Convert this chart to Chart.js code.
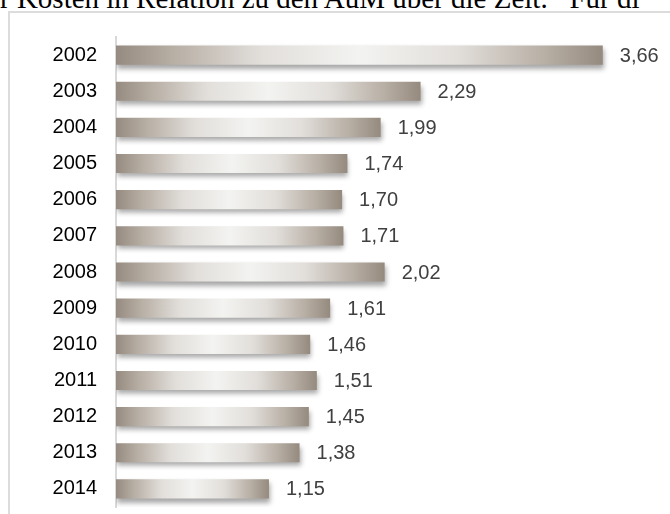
<!DOCTYPE html>
<html>
<head>
<meta charset="utf-8">
<script src="https://cdn.jsdelivr.net/npm/chart.js@4.4.0/dist/chart.umd.min.js"></script>
<style>
    html, body { margin: 0; padding: 0; background: #ffffff; }
    body { width: 670px; height: 514px; position: relative; overflow: hidden; }
    /* cut-off line of the surrounding document text */
    #caption {
        position: absolute; left: 0px; top: -16px; white-space: nowrap;
        font-family: "Liberation Serif", "Times New Roman", serif;
        font-size: 29px; line-height: 29px; color: #000;
    }
    /* light frame around the chart object */
    #frame {
        position: absolute; left: 8px; top: 11px; width: 700px; height: 540px;
        border: 2px solid #dcdcdc; box-sizing: border-box;
    }
    #wrap { position: absolute; left: 0; top: 0; width: 670px; height: 514px; }
</style>
</head>
<body>
<div id="caption">r Kosten in Relation zu den AuM über die Zeit.&nbsp;&nbsp; Für di</div>
<div id="frame"></div>
<div id="wrap"><canvas id="chartCanvas" width="670" height="514"></canvas></div>
<script>
// ==========================================
// DATA — years and cost ratio per year
// ==========================================
const years = ['2002', '2003', '2004', '2005', '2006', '2007', '2008',
               '2009', '2010', '2011', '2012', '2013', '2014'];
const costRatio = [3.66, 2.29, 1.99, 1.74, 1.70, 1.71, 2.02,
                   1.61, 1.46, 1.51, 1.45, 1.38, 1.15];

// German number format: 3,66
const fmt = v => v.toFixed(2).replace('.', ',');

// Horizontal gradient per bar: dark edges, light middle.
// Scales are already laid out when bar options get resolved.
function barGradient(context) {
    const chart = context.chart;
    const xScale = chart.scales.x;
    if (!xScale || !context.parsed) return '#b5aca2';
    const x0 = xScale.getPixelForValue(0);
    const x1 = xScale.getPixelForValue(context.parsed.x);
    if (!isFinite(x0) || !isFinite(x1) || x1 <= x0) return '#b5aca2';
    const g = chart.ctx.createLinearGradient(x0, 0, x1, 0);
    g.addColorStop(0, '#968b80');
    g.addColorStop(0.12, '#b8afa5');
    g.addColorStop(0.3, '#e2dfdb');
    g.addColorStop(0.5, '#f3f3f1');
    g.addColorStop(0.7, '#e2dfdb');
    g.addColorStop(0.88, '#b8afa5');
    g.addColorStop(1, '#958a7e');
    return g;
}

// Soft drop shadow under the bars
const shadowPlugin = {
    id: 'barShadow',
    beforeDatasetDraw(chart) {
        const ctx = chart.ctx;
        ctx.save();
        ctx.shadowColor = 'rgba(60, 60, 60, 0.45)';
        ctx.shadowBlur = 5;
        ctx.shadowOffsetX = 1;
        ctx.shadowOffsetY = 4;
    },
    afterDatasetDraw(chart) {
        chart.ctx.restore();
    }
};

// Value labels to the right of each bar
const valueLabels = {
    id: 'valueLabels',
    afterDatasetsDraw(chart) {
        const ctx = chart.ctx;
        const meta = chart.getDatasetMeta(0);
        ctx.save();
        ctx.font = '20px "Liberation Sans", Arial, sans-serif';
        ctx.fillStyle = '#404040';
        ctx.textAlign = 'left';
        ctx.textBaseline = 'middle';
        meta.data.forEach((bar, i) => {
            ctx.fillText(fmt(costRatio[i]), bar.x + 17, bar.y + 1);
        });
        ctx.restore();
    }
};

const ctx = document.getElementById('chartCanvas').getContext('2d');
new Chart(ctx, {
    type: 'bar',
    data: {
        labels: years,
        datasets: [{
            data: costRatio,
            backgroundColor: barGradient,
            borderWidth: 0,
            categoryPercentage: 1,
            barPercentage: 0.53
        }]
    },
    options: {
        indexAxis: 'y',
        responsive: false,
        animation: false,
        layout: { padding: { left: 0, top: 37, right: 22, bottom: 7 } },
        plugins: { legend: { display: false }, tooltip: { enabled: false } },
        scales: {
            x: { display: false, min: 0, max: 4 },
            y: {
                grid: { display: false, drawTicks: false },
                border: { display: true, color: '#d9d9d9', width: 2 },
                ticks: {
                    color: '#000000',
                    padding: 19,
                    font: { family: '"Liberation Sans", Arial, sans-serif', size: 20 }
                },
                afterFit(scale) {
                    // fixed axis width, no extra room for half label heights
                    scale.width = 116;
                    scale.paddingTop = 0;
                    scale.paddingBottom = 0;
                }
            }
        }
    },
    plugins: [shadowPlugin, valueLabels]
});
</script>
</body>
</html>
